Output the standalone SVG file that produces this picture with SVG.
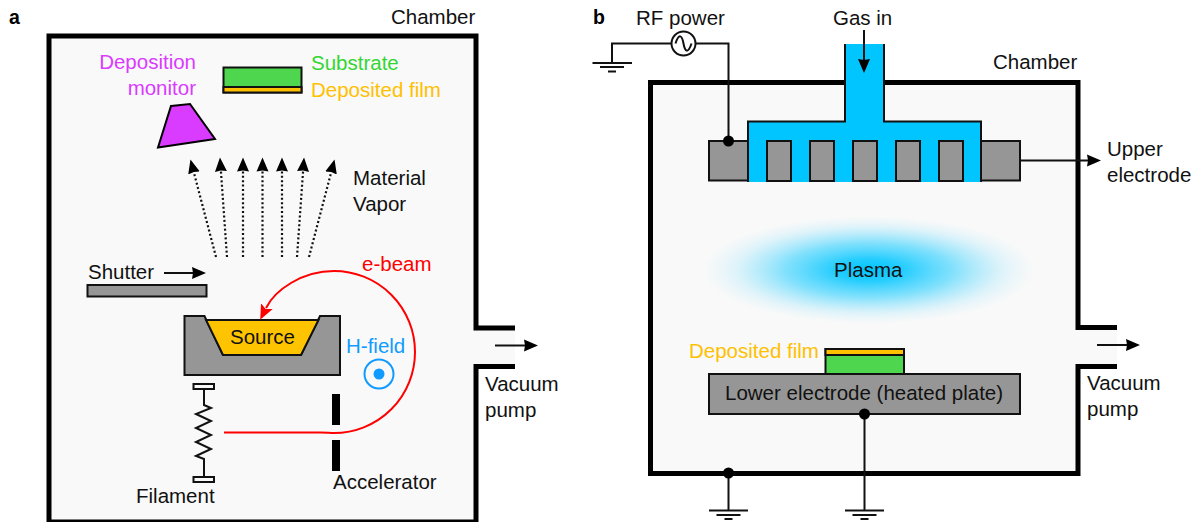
<svg xmlns="http://www.w3.org/2000/svg" width="1194" height="522" viewBox="0 0 1194 522">
<style>
text{font-family:"Liberation Sans",Arial,sans-serif;font-size:20.500px;fill:#111}
text.b{font-weight:bold;font-size:19.500px;fill:#000}
.wall{fill:none;stroke:#000;stroke-width:5;stroke-linejoin:miter}
.in{fill:#f9f9f9;stroke:none}
.g{fill:#969696;stroke:#111;stroke-width:2}
.w{fill:none;stroke:#111;stroke-width:2}
.ar{fill:none;stroke:#111;stroke-width:2;marker-end:url(#ah)}
.dot{fill:none;stroke:#111;stroke-width:2.200;stroke-dasharray:2 2.400;marker-end:url(#ah)}
.j{fill:#000}
</style>
<defs>
<marker id="ah" markerUnits="userSpaceOnUse" markerWidth="16" markerHeight="14" refX="2" refY="7" orient="auto"><path d="M0,1 L14,7 L0,13 L1,7 z" fill="#000"/></marker>
<marker id="ahr" markerUnits="userSpaceOnUse" markerWidth="18" markerHeight="14" refX="2" refY="7" orient="auto"><path d="M0,0.500 L15,7 L0,13.500 L3,7 z" fill="#f00"/></marker>
<radialGradient id="pl"><stop offset="0" stop-color="#00c5ff"/><stop offset=".2" stop-color="#10c9ff" stop-opacity=".92"/><stop offset=".5" stop-color="#30d0ff" stop-opacity=".6"/><stop offset=".8" stop-color="#60d8ff" stop-opacity=".18"/><stop offset="1" stop-color="#90e0ff" stop-opacity="0"/></radialGradient>
</defs>

<g id="chamber-a">
<path class="in" d="M49,36H476V328H515V366H476V525H49z"/>
<path class="wall" d="M515,328H476V36H49V522H476V366.500H515"/>
<text x="391" y="24">Chamber</text>
</g>
<text class="b" x="9" y="24">a</text>

<g id="monitor">
<polygon points="171,106 190,104 215,139 158,147.500" fill="#d93bff" stroke="#000" stroke-width="2"/>
<text x="196" y="69" text-anchor="end" style="fill:#d93bff">Deposition</text>
<text x="196" y="95" text-anchor="end" style="fill:#d93bff">monitor</text>
</g>
<g id="substrate">
<rect x="223.500" y="67.500" width="78" height="25" fill="#4fd64f" stroke="#111" stroke-width="2"/>
<rect x="223.500" y="87" width="78" height="5.500" fill="#ffc000" stroke="#111" stroke-width="2"/>
<text x="311" y="70" style="fill:#33d633">Substrate</text>
<text x="311" y="97" style="fill:#ffc000">Deposited film</text>
</g>
<g id="material-vapor">
<text x="353" y="185">Material</text>
<text x="353" y="211">Vapor</text>
</g>
<g id="shutter">
<rect class="g" x="87.500" y="285" width="119" height="11.500"/>
<text x="88" y="279">Shutter</text>
</g>
<g id="source">
<polygon class="g" points="184.500,316 204.500,316 223,355 301,355 320,316 340,316 340,375 184.500,375"/>
<polygon points="206,320 318.500,320 301,355 223,355" fill="#ffc400" stroke="#111" stroke-width="2"/>
<text x="230" y="344">Source</text>
</g>
<g id="h-field">
<circle cx="379" cy="374" r="14.500" fill="none" stroke="#0f9bff" stroke-width="2"/>
<circle cx="379" cy="374" r="5.500" fill="#0f9bff"/>
<text x="346" y="353" style="fill:#0f9bff">H-field</text>
</g>
<g id="filament">
<rect x="193.500" y="384" width="20.500" height="5" fill="#f9f9f9" stroke="#111" stroke-width="2"/>
<rect x="193.500" y="477" width="20.500" height="5" fill="#f9f9f9" stroke="#111" stroke-width="2"/>
<path class="w" d="M204,389V405L211,408L196,414L211,421L196,428L211,435L196,442L211,449L196,456L204,459V477"/>
<text x="136" y="503">Filament</text>
</g>
<g id="accelerator">
<rect x="332" y="394" width="8" height="31" fill="#000"/>
<rect x="332" y="440" width="8" height="31" fill="#000"/>
<text x="333" y="489">Accelerator</text>
</g>
<text x="485" y="391">Vacuum</text>
<text x="485" y="417">pump</text>
<text x="362" y="271" style="fill:#f00">e-beam</text>

<g id="chamber-b">
<path class="in" d="M650.500,82.500H1078V328H1117V366H1078V473.500H650.500z"/>
<path class="wall" d="M1117,327.500H1078V82.500H650.500V473.500H1078V366.500H1117"/>
<text x="993" y="69">Chamber</text>
</g>
<text class="b" x="593" y="24">b</text>
<g id="plasma">
<ellipse cx="869" cy="270" rx="166" ry="54" fill="url(#pl)"/>
<text x="834" y="277">Plasma</text>
</g>
<g id="upper-electrode">
<rect class="g" x="709" y="141" width="39" height="39.500"/>
<rect class="g" x="981" y="141" width="39" height="39.500"/>
<path d="M845,44V121.500H748V182H981V121.500H884V44z" fill="#00c5ff"/>
<path class="w" d="M845,44V121.500H748V182M884,44V121.500H981V182"/>
<rect class="g" x="767" y="141" width="24" height="40"/>
<rect class="g" x="810" y="141" width="24" height="40"/>
<rect class="g" x="853" y="141" width="24" height="40"/>
<rect class="g" x="896" y="141" width="24" height="40"/>
<rect class="g" x="939" y="141" width="24" height="40"/>
<text x="1107" y="156">Upper</text>
<text x="1107" y="182">electrode</text>
</g>
<g id="lower-electrode">
<rect x="825.500" y="349" width="78.500" height="25" fill="#4fd64f" stroke="#111" stroke-width="2"/>
<rect x="825.500" y="349" width="78.500" height="6" fill="#ffc000" stroke="#111" stroke-width="2"/>
<rect class="g" x="709" y="374" width="311" height="40"/>
<text x="725" y="400">Lower electrode (heated plate)</text>
<text x="689" y="358" style="fill:#ffc000">Deposited film</text>
</g>
<g id="rf-power">
<circle cx="683.500" cy="43.500" r="12" fill="#fff" stroke="#111" stroke-width="2"/>
<path class="w" d="M675.500,43.500C679,33 682,35 683.500,43.500C685,52 688,54 691.500,43.500" stroke-width="1.500"/>
<text x="636" y="25">RF power</text>
</g>
<text x="833" y="25">Gas in</text>
<text x="1087" y="390">Vacuum</text>
<text x="1087" y="416">pump</text>

<g id="connectors">
<path class="dot" d="M216,257L193.500,171"/>
<path class="dot" d="M227,257L220.800,169.500"/>
<path class="dot" d="M243,257V169.500"/>
<path class="dot" d="M262.500,257V169.500"/>
<path class="dot" d="M282,257V169.500"/>
<path class="dot" d="M297,257L303.200,169.500"/>
<path class="dot" d="M309,257L331.500,171"/>
<path class="ar" d="M164,273H194"/>
<path class="ar" d="M495,345.500H526"/>
<path class="ar" d="M1097,345H1128"/>
<path class="ar" d="M864,30V61"/>
<path class="ar" d="M1020,160.500H1089"/>
<path d="M224,432.500H320C326,432.500 330,433 334,433A81,81 0 0 0 334,271C302,271 275,290 266,308" fill="none" stroke="#f00" stroke-width="2" marker-end="url(#ahr)"/>
<path class="w" d="M612,63V43.500H671.500M695.500,43.500H728.500V141"/>
<path class="w" d="M592.500,63H632M600,67H624M608,71.500H616"/>
<circle class="j" cx="728.500" cy="141" r="5.500"/>
<path class="w" d="M728.500,473V510.500M709,510.500H748M716.500,515H740.500M724.500,519H732.500"/>
<circle class="j" cx="728.500" cy="473" r="5.500"/>
<path class="w" d="M864.500,414V510.500M845,510.500H884M852.500,515H876.500M860.500,519H868.500"/>
<circle class="j" cx="864.500" cy="414" r="5.500"/>
</g>
</svg>
